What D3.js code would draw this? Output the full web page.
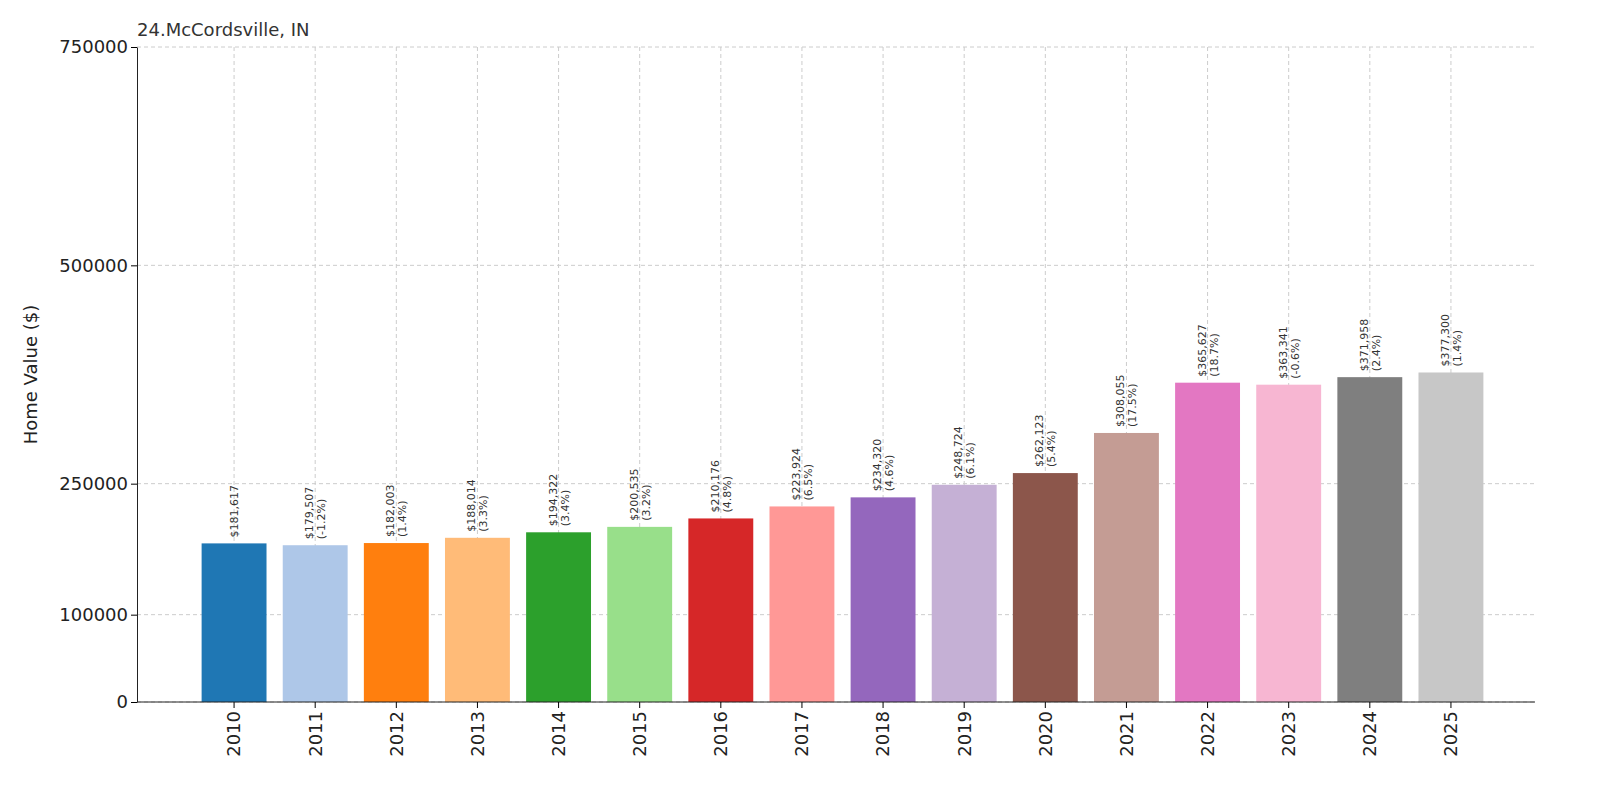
<!DOCTYPE html>
<html><head><meta charset="utf-8">
<script src="https://cdn.jsdelivr.net/npm/d3@7"></script>
<style>body{margin:0;background:#fff;font-family:"DejaVu Sans",sans-serif;}</style>
</head><body><div id="chart"></div>
<script>
var years = ["2010","2011","2012","2013","2014","2015","2016","2017","2018","2019","2020","2021","2022","2023","2024","2025"];
var values = [181617,179507,182003,188014,194322,200535,210176,223924,234320,248724,262123,308055,365627,363341,371958,377300];
var changes = [null,"-1.2%","1.4%","3.3%","3.4%","3.2%","4.8%","6.5%","4.6%","6.1%","5.4%","17.5%","18.7%","-0.6%","2.4%","1.4%"];
var colors = ["#1f77b4","#aec7e8","#ff7f0e","#ffbb78","#2ca02c","#98df8a","#d62728","#ff9896","#9467bd","#c5b0d5","#8c564b","#c49c94","#e377c2","#f7b6d2","#7f7f7f","#c7c7c7"];
var yTicks = [0,100000,250000,500000,750000];

var W = 1600, H = 800, mLeft = 137, mRight = 1535, mTop = 47, mBottom = 702;
var svg = d3.select("#chart").append("svg").attr("width", W).attr("height", H);

var x = d3.scaleBand().domain(years).range([193.5, 1491.5]).paddingInner(0.2).paddingOuter(0.1);
var y = d3.scaleLinear().domain([0, 750000]).range([mBottom, mTop]);

// grid
svg.selectAll(".hg").data(yTicks).enter().append("line")
  .attr("x1", mLeft).attr("x2", mRight).attr("y1", d => y(d)).attr("y2", d => y(d))
  .attr("stroke", "#ccc").attr("stroke-dasharray", "4,3");
svg.selectAll(".vg").data(years).enter().append("line")
  .attr("x1", d => x(d) + x.bandwidth()/2).attr("x2", d => x(d) + x.bandwidth()/2)
  .attr("y1", mTop).attr("y2", mBottom)
  .attr("stroke", "#ccc").attr("stroke-dasharray", "4,3");

// bars
svg.selectAll(".bar").data(values).enter().append("rect")
  .attr("x", (d, i) => x(years[i])).attr("width", x.bandwidth())
  .attr("y", d => y(d)).attr("height", d => mBottom - y(d))
  .attr("fill", (d, i) => colors[i]);

// labels
values.forEach(function(v, i) {
  var cx = x(years[i]) + x.bandwidth()/2, ty = y(v) - 6;
  var t = svg.append("text").attr("transform", "translate(" + cx + "," + ty + ") rotate(-90)")
    .attr("font-size", 11).attr("fill", "#333");
  if (changes[i]) {
    t.append("tspan").attr("x", 0).attr("y", -2).text("$" + d3.format(",")(v));
    t.append("tspan").attr("x", 0).attr("y", 10).text("(" + changes[i] + ")");
  } else {
    t.append("tspan").attr("x", 0).attr("y", 4).text("$" + d3.format(",")(v));
  }
});

// axes
var ya = svg.append("g").attr("transform", "translate(" + mLeft + ",0)")
  .call(d3.axisLeft(y).tickValues(yTicks).tickFormat(d3.format("d")).tickSizeOuter(0));
ya.selectAll("text").attr("font-size", 18).attr("fill", "#222").attr("font-family", "DejaVu Sans");
ya.select(".domain").attr("stroke", "#222");

var xa = svg.append("g").attr("transform", "translate(0," + mBottom + ")")
  .call(d3.axisBottom(x).tickSizeOuter(0));
xa.select(".domain").attr("d", "M" + mLeft + ",0H" + mRight).attr("stroke", "#222");
xa.selectAll("text").attr("font-size", 18).attr("fill", "#222").attr("font-family", "DejaVu Sans")
  .attr("transform", "rotate(-90)").attr("text-anchor", "end").attr("x", -9).attr("y", 0).attr("dy", "0.35em");

svg.append("text").attr("x", mLeft).attr("y", 36).attr("font-size", 18).attr("fill", "#333").text("24.McCordsville, IN");
svg.append("text").attr("transform", "translate(37," + ((mTop + mBottom)/2) + ") rotate(-90)")
  .attr("text-anchor", "middle").attr("font-size", 18).attr("fill", "#222").text("Home Value ($)");
</script></body></html>
